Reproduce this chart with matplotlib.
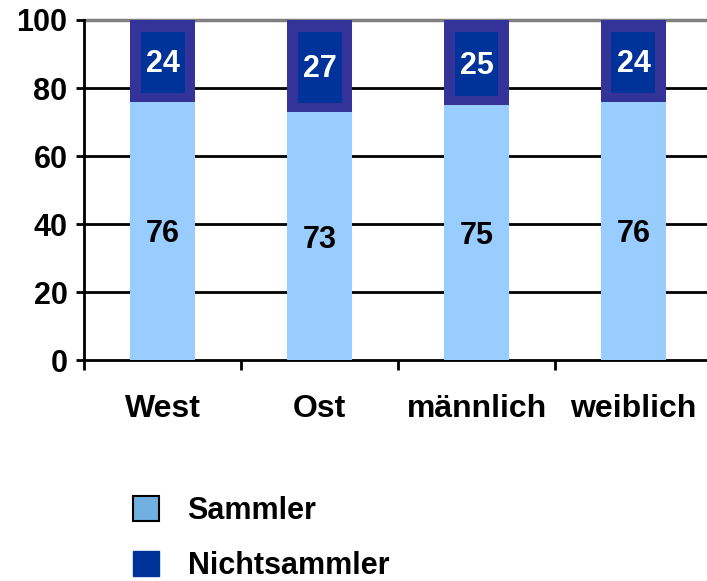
import matplotlib
matplotlib.use("Agg")
import matplotlib.pyplot as plt
from matplotlib.patches import Patch
import numpy as np

categories = ["West", "Ost", "männlich", "weiblich"]
sammler = [76, 73, 75, 76]
nichtsammler = [24, 27, 25, 24]

plt.rcParams['font.family'] = ['Liberation Sans', 'DejaVu Sans']
plt.rcParams['font.weight'] = 'bold'

fig = plt.figure(figsize=(7.07, 5.81), dpi=100)
ax = fig.add_axes([0.119, 0.380, 0.888, 0.5856])

x = np.arange(len(categories))
w = 0.41
light = "#99CCFF"
ax.bar(x, sammler, width=w, color=light, zorder=3)
ax.bar(x, nichtsammler, width=w, bottom=sammler, color="#333399", zorder=3)
# inner darker label boxes
s = np.array(sammler)
n = np.array(nichtsammler)
ax.bar(x, n - 6.2, width=0.28, bottom=s + 2.6, color="#003399", zorder=4)

for i in range(len(categories)):
    ax.text(x[i], sammler[i] / 2, str(sammler[i]), ha='center', va='center_baseline',
            fontsize=22, fontweight='bold', color='black', zorder=5)
    ax.text(x[i], sammler[i] + nichtsammler[i] / 2, str(nichtsammler[i]),
            ha='center', va='center_baseline', fontsize=22, fontweight='bold',
            color='white', zorder=5)

ax.set_xlim(-0.5, 3.5)
ax.set_ylim(0, 100)
ax.set_yticks([0, 20, 40, 60, 80, 100])
ax.tick_params(axis='y', labelsize=22, length=6, width=2, pad=6)
for lab in ax.get_yticklabels():
    lab.set_fontweight('bold')

ax.set_xticks([-0.5, 0.5, 1.5, 2.5, 3.5])
ax.set_xticklabels([])
ax.set_xticks(x, minor=True)
ax.set_xticklabels(categories, minor=True)
ax.tick_params(axis='x', which='major', length=7, width=2, direction='out')
ax.tick_params(axis='x', which='minor', length=0, labelsize=23, pad=24)
for lab in ax.get_xticklabels(minor=True):
    lab.set_fontweight('bold')

for yv in [20, 40, 60, 80]:
    ax.axhline(yv, color='black', lw=2, zorder=1)
ax.axhline(100, color='#808080', lw=2.5, zorder=1, clip_on=False)

ax.spines['top'].set_visible(False)
ax.spines['right'].set_visible(False)
ax.spines['left'].set_linewidth(2)
ax.spines['bottom'].set_linewidth(2)

handles = [Patch(facecolor="#6FB0E0", edgecolor='black', linewidth=1.5, label="Sammler"),
           Patch(facecolor="#003399", edgecolor='#003399', label="Nichtsammler")]
leg = fig.legend(handles=handles, loc='upper left', bbox_to_anchor=(0.162, 0.178),
                 frameon=False, fontsize=22, handlelength=0.87, handleheight=0.87,
                 handletextpad=0.92, labelspacing=0.82, borderaxespad=0.2)
for t in leg.get_texts():
    t.set_fontweight('bold')

fig.savefig("out.png", dpi=100)
